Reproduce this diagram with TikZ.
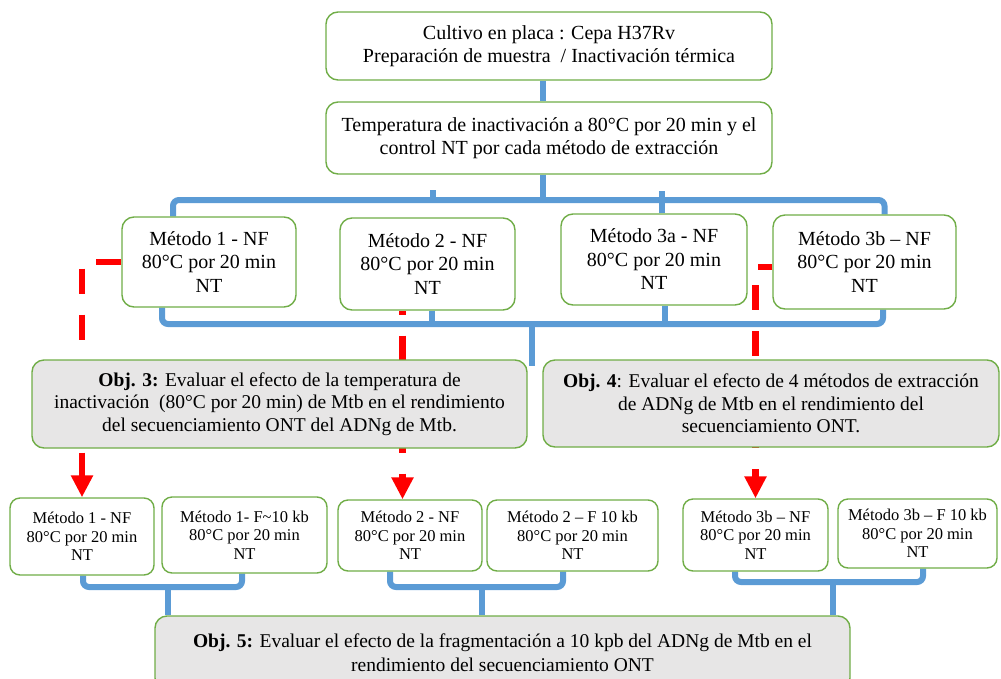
\documentclass[tikz,border=0pt]{standalone}
\usepackage{fontspec}
\setmainfont{Liberation Serif}
\usepackage{tikz}
\usetikzlibrary{arrows.meta,calc,positioning,backgrounds}
\definecolor{linkblue}{RGB}{91,155,213}
\definecolor{boxgreen}{RGB}{112,173,71}
\definecolor{objgray}{RGB}{231,230,230}
\definecolor{dashred}{RGB}{255,0,0}

\begin{document}
\begin{tikzpicture}[x=1pt,y=-1pt,>=Latex,
  box/.style={draw=boxgreen,line width=1.4pt,rounded corners=12pt,fill=white,
    align=center,inner sep=2pt,font=\fontsize{20}{23.5}\selectfont},
  objbox/.style={box,fill=objgray,font=\fontsize{19.5}{22.5}\selectfont},
  smallbox/.style={box,rounded corners=10pt,font=\fontsize{16.5}{18.7}\selectfont},
  bluelink/.style={linkblue,line width=6pt,rounded corners=6pt},
  redlink/.style={dashred,line width=6.5pt,dash pattern=on 25pt off 21pt,
    -{Triangle[width=21pt,length=22pt]}}]
\useasboundingbox (0,0) rectangle (1001,678);

% sample preparation
\node[box,minimum width=446pt,minimum height=68pt] (t1) at (549,46)
  {Cultivo en placa : Cepa H37Rv\\Preparación de muestra \ / Inactivación térmica};
\node[box,minimum width=446pt,minimum height=72pt] (t2) at (549,138)
  {Temperatura de inactivación a 80°C por 20 min y el\\control NT por cada método de extracción};

% extraction methods
\node[box,minimum width=174pt,minimum height=90pt] (m1) at (209,262)
  {Método 1 - NF\\80°C por 20 min\\NT};
\node[box,minimum width=175pt,minimum height=92pt] (m2) at (427.5,264)
  {Método 2 - NF\\80°C por 20 min\\NT};
\node[box,minimum width=186pt,minimum height=91pt] (m3a) at (654,259.5)
  {Método 3a - NF\\80°C por 20 min\\NT};
\node[box,minimum width=183pt,minimum height=94pt] (m3b) at (864.5,262)
  {Método 3b – NF\\80°C por 20 min\\NT};

% objectives 3 and 4
\node[objbox,minimum width=495pt,minimum height=88pt] (obj3) at (279.5,404)
  {\textbf{Obj. 3:} Evaluar el efecto de la temperatura de\\inactivación \ (80°C por 20 min) de Mtb en el rendimiento\\del secuenciamiento ONT del ADNg de Mtb.};
\node[objbox,minimum width=456pt,minimum height=87pt] (obj4) at (771,403.5)
  {\textbf{Obj. 4}: Evaluar el efecto de 4 métodos de extracción\\de ADNg de Mtb en el rendimiento del\\secuenciamiento ONT.};

% fragmented / non fragmented
\node[smallbox,minimum width=144pt,minimum height=77pt] (b1) at (82,536.5)
  {Método 1 - NF\\80°C por 20 min\\NT};
\node[smallbox,minimum width=165pt,minimum height=76pt] (b2) at (244.5,535)
  {Método 1- F\textasciitilde10 kb\\80°C por 20 min\\NT};
\node[smallbox,minimum width=144pt,minimum height=71pt] (b3) at (410,535.5)
  {Método 2 - NF\\80°C por 20 min\\NT};
\node[smallbox,minimum width=171pt,minimum height=71pt] (b4) at (572.5,535.5)
  {Método 2 – F 10 kb\\80°C por 20 min\\NT};
\node[smallbox,minimum width=145pt,minimum height=72pt] (b5) at (755.5,535)
  {Método 3b – NF\\80°C por 20 min\\NT};
\node[smallbox,minimum width=159pt,minimum height=69pt] (b6) at (917.5,533.5)
  {Método 3b – F 10 kb\\80°C por 20 min\\NT};

% objective 5
\node[objbox,minimum width=695pt,minimum height=74pt,font=\fontsize{19.5}{24}\selectfont] (obj5) at (502.5,653)
  {\textbf{Obj. 5:} Evaluar el efecto de la fragmentación a 10 kpb del ADNg de Mtb en el\\rendimiento del secuenciamiento ONT};

\begin{scope}[on background layer]
\coordinate (busA) at (543,200);
\coordinate (busB) at (532,324);
\draw[bluelink] ([xshift=-6pt]t1.south) -- ([xshift=-6pt]t2.north);
\draw[bluelink] ([xshift=-6pt]t2.south) -- (busA);
\draw[bluelink] ([xshift=-36pt]m1.north) |- (busA) -| ([xshift=20pt]m3b.north);
\draw[bluelink] ([xshift=5pt]m2.north) ++(0,-18) -- ++(0,-9);
\draw[bluelink] ([xshift=8pt]m3a.north) -- ++(0,-22);
\draw[bluelink] ([xshift=-47pt]m1.south) |- (busB) -| ([xshift=18.5pt]m3b.south);
\draw[bluelink] ([xshift=4.5pt]m2.south) -- ([xshift=4.5pt]m2.south |- busB);
\draw[bluelink] ([xshift=11pt]m3a.south) -- ([xshift=11pt]m3a.south |- busB);
\draw[bluelink] (busB) -- ++(0,42);
% pairs down to obj. 5
\foreach \lft/\lsh/\rgt/\rsh/\jx/\jy in {b1/1pt/b2/-2.5pt/168/587,
    b3/-20pt/b4/-9.5pt/482/587, b5/-20.5pt/b6/5.5pt/833/582}{
  \coordinate (j) at (\jx,\jy);
  \draw[bluelink] ([xshift=\lsh]\lft.south) |- (j) -| ([xshift=\rsh]\rgt.south);
  \draw[bluelink] (j) -- (j |- obj5.north);
}
% red dashed arrows
\draw[redlink] (m1.west) -| (b1.north);
\draw[redlink,dash phase=21pt] ([xshift=-25pt]m2.south) -- ([xshift=-25pt]m2.south |- b3.north);
\draw[redlink,dash phase=11pt] ([yshift=-5pt]m3b.west) -| (b5.north);
\end{scope}
\end{tikzpicture}
\end{document}
